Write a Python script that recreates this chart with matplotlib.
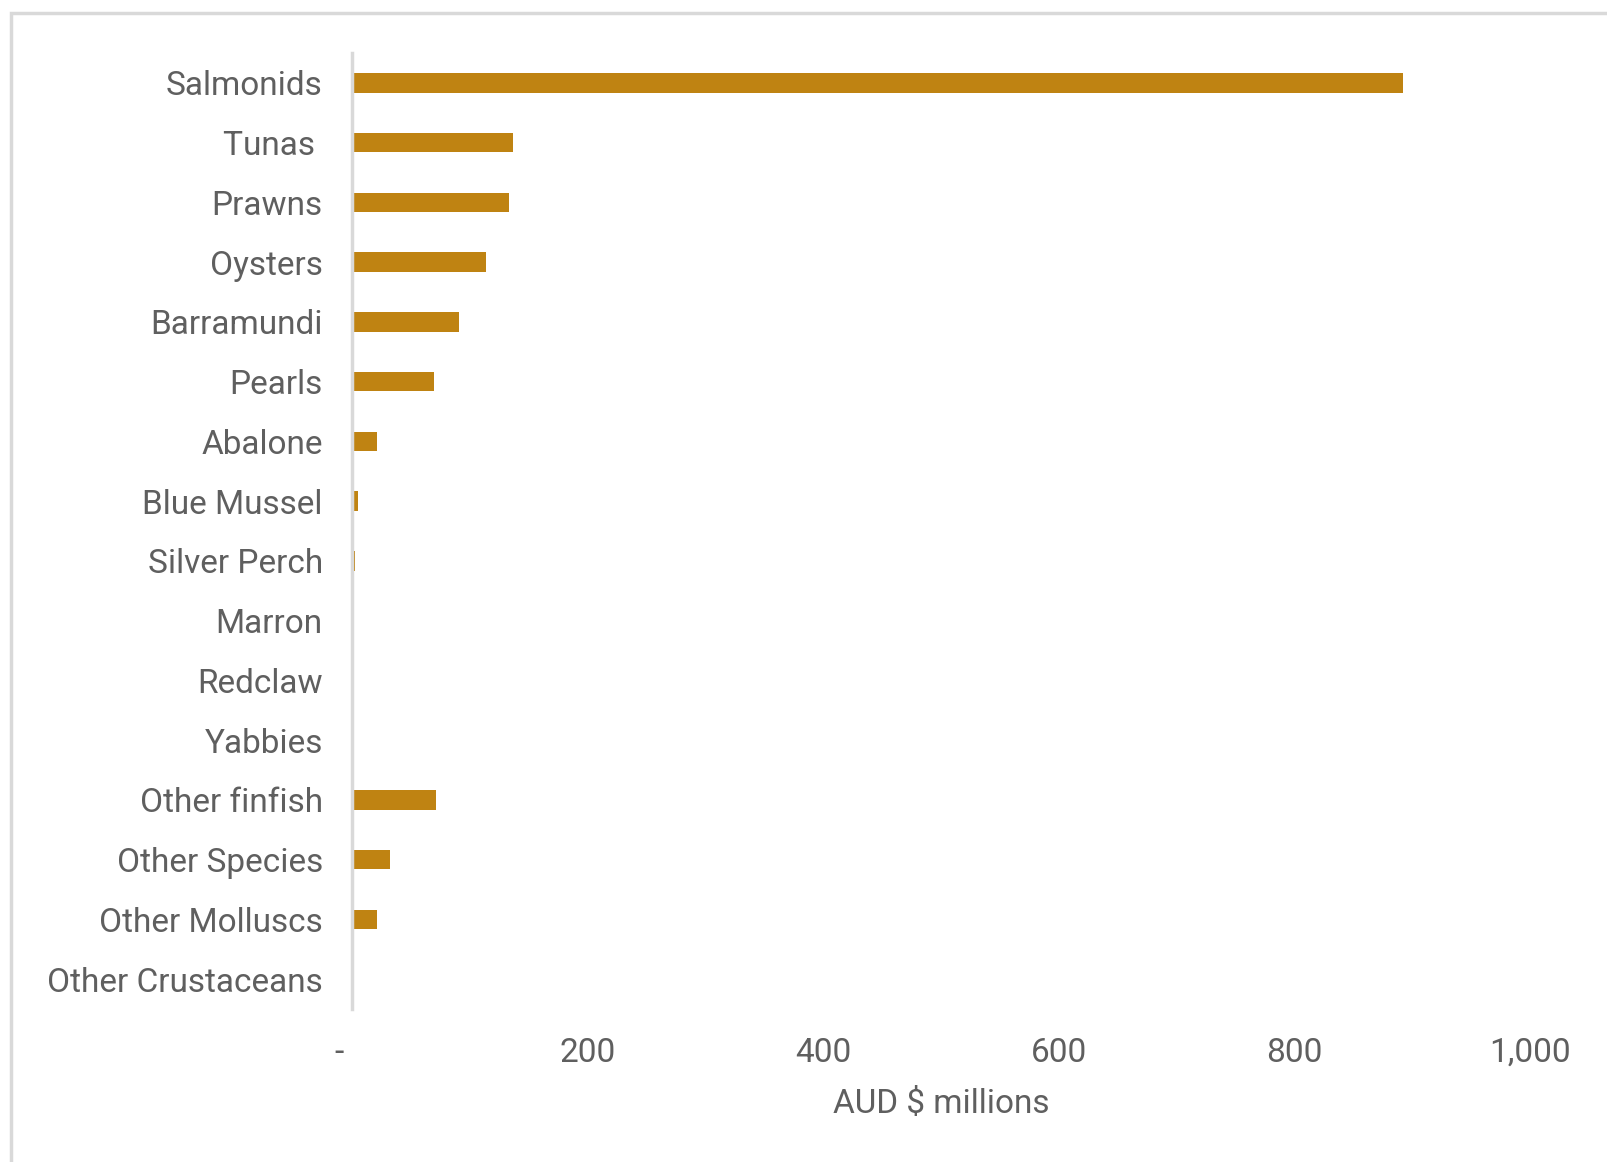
import matplotlib
matplotlib.use("Agg")
import matplotlib.pyplot as plt
from matplotlib.patches import Rectangle

categories = ["Salmonids", "Tunas ", "Prawns", "Oysters", "Barramundi", "Pearls",
              "Abalone", "Blue Mussel", "Silver Perch", "Marron", "Redclaw", "Yabbies",
              "Other finfish", "Other Species", "Other Molluscs", "Other Crustaceans"]
values = [892, 137, 133, 114, 90.5, 70, 21.6, 5.2, 2.2, 0.3, 0.3, 0.3, 71, 32, 20.8, 0.3]
xticks = [0, 200, 400, 600, 800, 1000]
xticklabels = ["-   ", "200", "400", "600", "800", "1,000"]

plt.rcParams['font.family'] = ['Roboto', 'DejaVu Sans']
text_color = "#5f5f5f"
bar_color = "#BF8312"

fig = plt.figure(figsize=(16.08, 11.62), dpi=100)
fig.patch.set_facecolor("white")
# chart-area border (clipped at right and bottom)
fig.patches.append(Rectangle((11/1608, -0.2), 2.0, 1.2 - 13/1162,
                             transform=fig.transFigure, fill=False,
                             edgecolor="#d9d9d9", linewidth=2.5, zorder=0))

ax = fig.add_axes([352/1608, 1 - 1009/1162, (1530 - 352)/1608, (1009 - 53)/1162])
y = list(range(len(categories)))
ax.barh(y, values, height=0.33, color=bar_color, zorder=2)
ax.set_ylim(len(categories) - 0.5, -0.5)
ax.set_xlim(0, 1000)
ax.set_yticks(y)
ax.set_yticklabels(categories)
ax.set_xticks(xticks)
ax.set_xticklabels(xticklabels)
ax.tick_params(axis='both', length=0, labelsize=24, colors=text_color)
ax.tick_params(axis='y', pad=21)
ax.tick_params(axis='x', pad=20)
for s in ["top", "right", "bottom"]:
    ax.spines[s].set_visible(False)
ax.spines["left"].set_color("#d9d9d9")
ax.spines["left"].set_linewidth(2.5)
ax.set_xlabel("AUD $ millions", fontsize=24, color=text_color, labelpad=14, parse_math=False)

fig.savefig("out.png", dpi=100, facecolor="white")
